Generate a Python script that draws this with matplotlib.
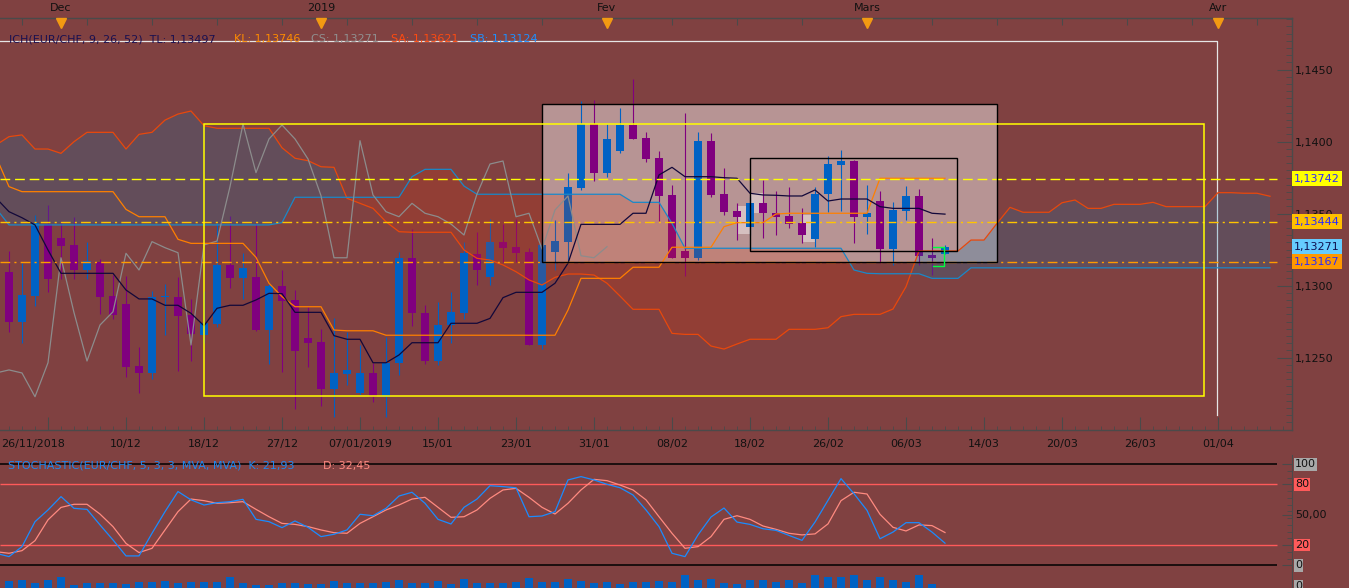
import matplotlib
matplotlib.use('Agg')
import matplotlib.pyplot as plt
import matplotlib.transforms as mtransforms
from matplotlib.patches import Rectangle
from matplotlib.ticker import FixedLocator
import numpy as np

W, H = 1349, 588
plt.rcParams['font.family'] = ['DejaVu Sans']
plt.rcParams['font.size'] = 8

# ---------------- data ----------------
# candles: bar 0 .. 72
opens = [1.13095,1.12750,1.12931,1.13430,1.13331,1.13283,1.13109,1.13167,1.12928,1.12873,
1.12442,1.12392,1.12920,1.12919,1.12797,1.12658,1.12734,1.13142,1.13056,1.13060,
1.12694,1.12998,1.12901,1.12637,1.12609,1.12283,1.12389,1.12257,1.12394,1.12229,
1.12461,1.13194,1.12813,1.12477,1.12727,1.12808,1.13220,1.13058,1.13303,1.13267,
1.13234,1.12588,1.13236,1.13306,1.13676,1.14123,1.13785,1.13938,1.14116,1.14026,
1.13889,1.13630,1.13241,1.13194,1.14007,1.13637,1.13519,1.13410,1.13572,1.13503,
1.13484,1.13433,1.13324,1.13635,1.13838,1.13866,1.13479,1.13588,1.13255,1.13519,
1.13623,1.13213,1.13220]
highs = [1.13241,1.13156,1.13491,1.13560,1.13451,1.13479,1.13306,1.13183,1.13074,1.13069,
1.12576,1.12963,1.13010,1.13063,1.12908,1.12963,1.13433,1.13484,1.13229,1.13438,
1.13010,1.13109,1.12970,1.12850,1.12699,1.12778,1.12681,1.12588,1.12461,1.12646,
1.13236,1.13392,1.12866,1.12889,1.12958,1.13306,1.13371,1.13461,1.13428,1.13461,
1.13260,1.13364,1.13456,1.13780,1.14283,1.14290,1.14123,1.14236,1.14435,1.14070,
1.13938,1.13699,1.14197,1.14070,1.14063,1.13815,1.13572,1.13618,1.13734,1.13658,
1.13683,1.13542,1.13688,1.13901,1.13942,1.13873,1.13699,1.13658,1.13579,1.13692,
1.13672,1.13333,1.13283]
lows = [1.12681,1.12600,1.12861,1.12958,1.13049,1.13047,1.13047,1.12803,1.12769,1.12364,
1.12253,1.12350,1.12658,1.12410,1.12479,1.12600,1.12715,1.12982,1.12906,1.12687,
1.12454,1.12403,1.12146,1.12437,1.12165,1.12090,1.12310,1.12241,1.12194,1.12090,
1.12380,1.12722,1.12456,1.12449,1.12600,1.12767,1.13005,1.13005,1.13167,1.13167,
1.12588,1.12558,1.13109,1.13167,1.13665,1.13729,1.13757,1.13920,1.14019,1.13861,
1.13451,1.13194,1.13069,1.13178,1.13618,1.13491,1.13317,1.13352,1.13333,1.13352,
1.13403,1.13299,1.13267,1.13514,1.13521,1.13299,1.13359,1.13156,1.13144,1.13456,
1.13144,1.13074,1.13220]
closes = [1.12750,1.12933,1.13433,1.13049,1.13278,1.13109,1.13172,1.12924,1.12797,1.12437,
1.12392,1.12919,1.12925,1.12792,1.12662,1.12739,1.13142,1.13056,1.13123,1.12692,
1.12998,1.12896,1.12549,1.12602,1.12285,1.12394,1.12415,1.12394,1.12229,1.12465,
1.13194,1.12813,1.12477,1.12727,1.12819,1.13225,1.13109,1.13306,1.13264,1.13229,
1.12588,1.13283,1.13310,1.13688,1.14123,1.13785,1.14019,1.14116,1.14019,1.13880,
1.13625,1.13194,1.13194,1.14007,1.13630,1.13514,1.13479,1.13572,1.13503,1.13479,
1.13428,1.13352,1.13637,1.13845,1.13866,1.13479,1.13503,1.13255,1.13526,1.13623,
1.13208,1.13194,1.13271]
close_before = 1.12394   # close of the bar before bar 0 shifted into view by chikou (= close of bar 25)

# indicator lines: bar -1 .. end
tenkan = [1.13609,1.13514,1.13472,1.13422,1.13248,1.13086,1.13086,1.13086,1.13086,1.13086,1.12970,
1.12908,1.12908,1.12864,1.12864,1.12808,1.12722,1.12843,1.12864,1.12864,1.12901,
1.12947,1.12945,1.12815,1.12815,1.12815,1.12653,1.12628,1.12628,1.12465,1.12465,
1.12519,1.12604,1.12604,1.12604,1.12739,1.12739,1.12739,1.12773,1.12917,1.12954,
1.12954,1.12954,1.13017,1.13156,1.13426,1.13426,1.13426,1.13426,1.13503,1.13503,
1.13769,1.13822,1.13757,1.13757,1.13757,1.13750,1.13746,1.13642,1.13630,1.13628,
1.13623,1.13623,1.13665,1.13588,1.13602,1.13602,1.13602,1.13549,1.13537,1.13537,
1.13537,1.13503,1.13497]

kijun = [1.13896,1.13688,1.13653,1.13653,1.13653,1.13653,1.13653,1.13653,1.13653,1.13653,1.13530,
1.13479,1.13479,1.13479,1.13322,1.13294,1.13294,1.13294,1.13294,1.13294,1.13197,
1.13017,1.12924,1.12854,1.12854,1.12854,1.12692,1.12687,1.12687,1.12687,1.12656,
1.12656,1.12656,1.12656,1.12656,1.12656,1.12656,1.12656,1.12656,1.12656,1.12656,
1.12656,1.12656,1.12656,1.12831,1.13051,1.13051,1.13051,1.13051,1.13128,1.13128,
1.13128,1.13267,1.13267,1.13267,1.13267,1.13410,1.13438,1.13438,1.13438,1.13498,
1.13503,1.13503,1.13503,1.13503,1.13503,1.13503,1.13503,1.13746,1.13746,1.13746,
1.13746,1.13746,1.13746]

senkou_a = [1.13977,1.14035,1.14047,1.13949,1.13949,1.13919,1.14000,1.14065,1.14065,1.14065,1.13949,
1.14051,1.14065,1.14150,1.14192,1.14213,1.14111,1.14093,1.14093,1.14093,1.14093,
1.14093,1.13958,1.13885,1.13868,1.13826,1.13822,1.13607,1.13572,1.13537,1.13444,
1.13375,1.13371,1.13371,1.13371,1.13371,1.13248,1.13190,1.13178,1.13144,1.13097,
1.13040,1.13005,1.13058,1.13081,1.13081,1.13074,1.13017,1.12928,1.12836,1.12836,
1.12836,1.12669,1.12662,1.12662,1.12581,1.12560,1.12595,1.12628,1.12628,1.12628,
1.12697,1.12697,1.12697,1.12708,1.12785,1.12801,1.12801,1.12801,1.12838,1.12993,
1.13241,1.13241,1.13241,1.13241,1.13317,1.13317,1.13433,1.13544,1.13510,1.13510,
1.13510,1.13576,1.13595,1.13537,1.13537,1.13565,1.13565,1.13565,1.13579,1.13549,
1.13549,1.13549,1.13549,1.13646,1.13646,1.13642,1.13642,1.13621]

senkou_b = [1.13537,1.13422,1.13422,1.13422,1.13422,1.13422,1.13422,1.13422,1.13422,1.13422,1.13422,
1.13422,1.13422,1.13422,1.13422,1.13422,1.13422,1.13422,1.13422,1.13422,1.13422,
1.13422,1.13438,1.13614,1.13614,1.13614,1.13614,1.13614,1.13614,1.13614,1.13614,
1.13614,1.13757,1.13808,1.13808,1.13808,1.13692,1.13635,1.13635,1.13635,1.13635,
1.13635,1.13635,1.13635,1.13635,1.13635,1.13635,1.13635,1.13635,1.13579,1.13579,
1.13579,1.13433,1.13260,1.13260,1.13260,1.13260,1.13260,1.13260,1.13260,1.13260,
1.13260,1.13260,1.13260,1.13260,1.13260,1.13109,1.13086,1.13083,1.13083,1.13083,
1.13083,1.13051,1.13051,1.13051,1.13124,1.13124,1.13124,1.13124,1.13124,1.13124,
1.13124,1.13124,1.13124,1.13124,1.13124,1.13124,1.13124,1.13124,1.13124,1.13124,
1.13124,1.13124,1.13124,1.13124,1.13124,1.13124,1.13124,1.13124]

stoch_k = [11.9,8.6,18.5,43.2,54.8,68,56.4,55.4,40,25.1,9.3,9.3,31.7,53.1,73,64.8,59.7,62,63,65.3,45.5,
43.2,37.3,43.9,37.6,28.4,30.7,35,50.5,49.1,56.4,68.6,72.3,61.4,45.5,40.9,57.4,65.6,78.8,77.9,76.8,
48.1,48.8,53.1,84.5,87.8,84.5,80.2,76.8,69.6,54.8,38.3,11.9,8.6,30.1,47.8,56.7,42.8,40.5,36.2,34.6,
29.6,24.7,42.8,64.3,85.8,70.9,54.4,26.3,32.9,42.2,42.2,32.9,21.93]
stoch_d = [13.5,11.9,14.5,24.4,45,57.3,60.4,60.4,50.7,38.3,21.7,12.6,16.8,35,53.1,65.6,64,61.4,62,63,55.4,
48.1,41.5,40.5,38.3,35,32.3,31.7,41.5,48.1,54.8,59.7,65.6,67.3,57.4,47.5,48.1,54.8,66.3,74.6,76.2,
67.3,57.4,50.8,61.4,74.6,85.1,83.8,79.5,74.6,64.8,48.1,31.7,16.8,18.5,28.4,45.5,49.1,45.5,38.9,35.6,
31.7,30.1,31.1,41,64,72.3,70.6,50.5,37.6,34,40,39.3,32.45]

volume = [7,8,4.7,8,10.7,3,4.7,4.7,4.7,4,6,6.3,6.7,4.7,6.3,6.3,6.3,10.7,4.7,2.7,
2.7,4.7,4.7,4,3.7,6.7,5.3,4.7,4.7,6,8,4.7,4.7,6.7,4,8.7,4.7,4.7,4.7,6.3,
10,6.3,6.3,8.7,6.7,4.7,6,3.7,6,6,6.7,5.7,12.7,8,8.7,4.7,3.7,8,8,6.3,
8,4.7,12.7,10.7,10.7,12.7,8,10.7,8,6,12.7,4]

level_lines = [1.13742, 1.13444, 1.13167]
month_bars = [4, 24, 46, 66, 93]
month_labels = ['Dec', '2019', 'Fev', 'Mars', 'Avr']
date_bars = [1.85, 9, 15, 21, 27, 33, 39, 45, 51, 57, 63, 69, 75, 81, 87, 93]
date_labels = ['26/11/2018', '10/12', '18/12', '27/12', '07/01/2019', '15/01', '23/01', '31/01',
               '08/02', '18/02', '26/02', '06/03', '14/03', '20/03', '26/03', '01/04']
price_ticks = [1.1250, 1.1300, 1.1350, 1.1400, 1.1450]

# drawing objects (bar index / price)
white_frame = (-0.7, 92.92, 1.12102, 1.14699)
yellow_rect = (15.0, 91.92, 1.12234, 1.14123)
pink_box = (41.0, 75.98, 1.13163, 1.14260)
inner_box = (57.0, 72.96, 1.13239, 1.13885)
ghost_boxes = [(56.1, 57.1, 1.13359, 1.13553), (57.1, 58.0, 1.13505, 1.13642), (61.0, 62.1, 1.13306, 1.13491)]
bracket = (71.1, 71.9, 1.13137, 1.13267)

# ---------------- figure ----------------
BG = '#804141'
AX = '#4a4a4a'
fig = plt.figure(figsize=(W / 100, H / 100), dpi=100)
fig.patch.set_facecolor(BG)

def px_rect(x0, y0, x1, y1):
    return [x0 / W, 1 - y1 / H, (x1 - x0) / W, (y1 - y0) / H]

xlim = (-9 / 13, (1292 - 9) / 13)

ax = fig.add_axes(px_rect(0, 18, 1292, 430))
ax.set_facecolor('none')
ax.set_xlim(*xlim)
ax.set_ylim(1.119979, 1.148590)

n = len(closes)
xb = np.arange(n)
xl = np.arange(-1, len(tenkan) - 1)
xs = np.arange(-1, len(senkou_a) - 1)

# frame & rectangles
x0, x1, y0, y1 = white_frame
ax.plot([x0, x1, x1], [y1, y1, y0], color='#e6e6e6', lw=0.9, zorder=1)
x0, x1, y0, y1 = pink_box
ax.add_patch(Rectangle((x0, y0), x1 - x0, y1 - y0, facecolor='white', alpha=0.44, lw=0, zorder=1))
ax.add_patch(Rectangle((x0, y0), x1 - x0, y1 - y0, facecolor='none', edgecolor='black', lw=1.0, zorder=5))
for gx0, gx1, gy0, gy1 in ghost_boxes:
    ax.add_patch(Rectangle((gx0, gy0), gx1 - gx0, gy1 - gy0, facecolor='#e2d4d4', alpha=0.7, lw=0, zorder=1.5))
x0, x1, y0, y1 = yellow_rect
ax.add_patch(Rectangle((x0, y0), x1 - x0, y1 - y0, facecolor='none', edgecolor='#ffff00', lw=1.1, zorder=5))
x0, x1, y0, y1 = inner_box
ax.add_patch(Rectangle((x0, y0), x1 - x0, y1 - y0, facecolor='none', edgecolor='black', lw=1.0, zorder=5))

# candles
BULL = '#0062c4'
BEAR = '#80007f'
for i in range(n):
    o, h, l, c = opens[i], highs[i], lows[i], closes[i]
    col = BULL if c >= o else BEAR
    ax.vlines(i, l, h, color=col, lw=0.8, zorder=2)
    bh = max(abs(c - o), 0.00005)
    ax.add_patch(Rectangle((i - 0.31, min(o, c)), 0.62, bh, facecolor=col, edgecolor='none', zorder=2))

# cloud
sa = np.array(senkou_a)
sb = np.array(senkou_b)
ax.fill_between(xs, sa, sb, where=sa >= sb, interpolate=True, color=(0.0, 0.47, 0.70), alpha=0.22, lw=0, zorder=3)
ax.fill_between(xs, sa, sb, where=sb >= sa, interpolate=True, color=(0.90, 0.20, 0.0), alpha=0.18, lw=0, zorder=3)

# ichimoku lines
chikou = [close_before] + closes[26:]
ax.plot(xs, sa, color='#e8480c', lw=0.9, zorder=4)
ax.plot(xs, sb, color='#1a88c8', lw=0.9, zorder=4)
ax.plot(np.arange(-1, len(chikou) - 1), chikou, color='#8c8c8c', lw=0.9, zorder=4)
ax.plot(xl, kijun, color='#ff7f00', lw=0.9, zorder=4)
ax.plot(xl, tenkan, color='#12083a', lw=0.9, zorder=4)

# level lines
ax.hlines(level_lines[0], xlim[0], 97.5, color='#ffff00', lw=1.0, linestyles=(0, (7, 3.5)), zorder=4)
ax.hlines(level_lines[1], xlim[0], 97.5, color='#ffc400', lw=1.0, linestyles=(0, (7, 3, 1.5, 3)), zorder=4)
ax.hlines(level_lines[2], xlim[0], 97.5, color='#ff9a00', lw=1.0, linestyles=(0, (7, 3, 1.5, 3)), zorder=4)

# bracket marker
bx0, bx1, by0, by1 = bracket
ax.plot([bx0, bx1, bx1, bx0], [by1, by1, by0, by0], color='#00ff40', lw=1.0, zorder=6)

# axes styling
ax.spines['left'].set_visible(False)
for s in ['top', 'bottom', 'right']:
    ax.spines[s].set_color(AX)
    ax.spines[s].set_linewidth(1.0)
ax.yaxis.tick_right()
ax.set_yticks(price_ticks)
ax.set_yticklabels([f"{p:.4f}".replace('.', ',') for p in price_ticks])
ax.yaxis.set_minor_locator(FixedLocator(list(np.arange(1.1200, 1.1490, 0.0005))))
ax.tick_params(axis='y', which='major', direction='in', length=10.8, color=AX, pad=2, labelcolor='#111111', labelsize=8)
ax.tick_params(axis='y', which='minor', direction='in', length=4.3, color=AX)
ax.set_xticks(list(range(3, 99, 6)))
ax.xaxis.set_minor_locator(FixedLocator(list(range(0, 99))))
ax.tick_params(axis='x', which='major', direction='in', length=9.4, color=AX, labelbottom=False, top=False)
ax.tick_params(axis='x', which='minor', direction='in', length=2.9, color=AX, top=False)

trans_top = mtransforms.blended_transform_factory(ax.transData, fig.transFigure)
trans_right = mtransforms.blended_transform_factory(fig.transFigure, ax.transData)

# top axis ticks
top_ticks = list(range(1, 99, 5))
ax.vlines(top_ticks, 1 - 25 / H, 1 - 18 / H, transform=trans_top, color=AX, lw=0.8, clip_on=False)
for b, lab in zip(month_bars, month_labels):
    ax.text(b, 1 - 8 / H, lab, transform=trans_top, ha='center', va='center', color='#111111', fontsize=8, clip_on=False)
    ax.plot([b], [1 - 23 / H], marker='v', ms=6.5, color='#f39a12', mec='#f39a12', transform=trans_top, clip_on=False, zorder=7)
for b, lab in zip(date_bars, date_labels):
    ax.text(b, 1 - 444 / H, lab, transform=trans_top, ha='center', va='center', color='#111111', fontsize=8, clip_on=False)

# legend line
leg_y = 1 - 39 / H
fig.text(9 / W, leg_y, f"ICH(EUR/CHF, 9, 26, 52)  TL: {tenkan[-1]:.5f}".replace('.', ','), color='#1a1050', va='center', fontsize=8)
fig.text(234 / W, leg_y, f"KL: {kijun[-1]:.5f}".replace('.', ','), color='#ff8c00', va='center', fontsize=8)
fig.text(311 / W, leg_y, f"CS: {closes[-1]:.5f}".replace('.', ','), color='#909090', va='center', fontsize=8)
fig.text(391 / W, leg_y, f"SA: {senkou_a[-1]:.5f}".replace('.', ','), color='#ff4a10', va='center', fontsize=8)
fig.text(470 / W, leg_y, f"SB: {senkou_b[-1]:.5f}".replace('.', ','), color='#1e90ff', va='center', fontsize=8)

# right price boxes
boxes = [(level_lines[0], '#ffff00', '#2a2aff'), (level_lines[1], '#ffc000', '#2a2aff'),
         (closes[-1], '#66ccff', '#101050'), (level_lines[2], '#ff9900', '#2a2aff')]
for val, fc, tc in boxes:
    ax.text(1294 / W, val, f"{val:.5f}".replace('.', ','), transform=trans_right, ha='left', va='center',
            color=tc, fontsize=8, clip_on=False, zorder=10,
            bbox=dict(boxstyle='square,pad=0.22', fc=fc, ec='none'))

# ---------------- stochastic ----------------
ax2 = fig.add_axes(px_rect(0, 455, 1292, 572))
ax2.set_facecolor('none')
ax2.set_xlim(*xlim)
ax2.set_ylim(-6.63, 109.2)
xst = np.arange(-1, len(stoch_k) - 1)
ax2.hlines([100, 0], xlim[0], 97.5, color='black', lw=1.1)
ax2.hlines([80, 20], xlim[0], 97.5, color='#ff5a5a', lw=1.0)
ax2.plot(xst, stoch_d, color='#ff8a80', lw=0.9)
ax2.plot(xst, stoch_k, color='#1a8cff', lw=0.9)
for s in ['left', 'top', 'bottom']:
    ax2.spines[s].set_visible(False)
ax2.spines['right'].set_color(AX)
ax2.set_xticks([])
ax2.yaxis.tick_right()
ax2.set_yticks([0, 20, 50, 80, 100])
ax2.set_yticklabels([])
ax2.yaxis.set_minor_locator(FixedLocator(list(np.arange(0, 101, 20 / 3))))
ax2.tick_params(axis='y', which='major', direction='in', length=7, color=AX)
ax2.tick_params(axis='y', which='minor', direction='in', length=3.5, color=AX)
trans_r2 = mtransforms.blended_transform_factory(fig.transFigure, ax2.transData)
stoch_labels = [(100, '100', '#a8a8a8'), (80, '80', '#ff5a5a'), (50, '50,00', None), (20, '20', '#ff5a5a'), (0, '0', '#a8a8a8')]
for v, lab, fc in stoch_labels:
    kw = dict(bbox=dict(boxstyle='square,pad=0.12', fc=fc, ec='none')) if fc else {}
    ax2.text(1295 / W, v, lab, transform=trans_r2, ha='left', va='center', color='#111111', fontsize=8, clip_on=False, **kw)
st_y = 1 - 466 / H
fig.text(8 / W, st_y, f"STOCHASTIC(EUR/CHF, 5, 3, 3, MVA, MVA)  K: {stoch_k[-1]:.2f}".replace('.', ','), color='#1e88f0', va='center', fontsize=8)
fig.text(323 / W, st_y, f"D: {stoch_d[-1]:.2f}".replace('.', ','), color='#ff8a80', va='center', fontsize=8)

# ---------------- volume ----------------
ax3 = fig.add_axes(px_rect(0, 573, 1292, 588))
ax3.set_facecolor('none')
ax3.set_xlim(*xlim)
ax3.set_ylim(0, 15)
ax3.bar(np.arange(len(volume)), volume, width=0.6, color=BULL, lw=0)
for s in ['left', 'top', 'bottom']:
    ax3.spines[s].set_visible(False)
ax3.spines['right'].set_color(AX)
ax3.set_xticks([])
ax3.set_yticks([])
fig.text(1295 / W, 1 - 586 / H, '0', color='#111111', va='center', fontsize=8,
         bbox=dict(boxstyle='square,pad=0.12', fc='#a8a8a8', ec='none'))

fig.savefig('out.png', dpi=100, facecolor=BG)
